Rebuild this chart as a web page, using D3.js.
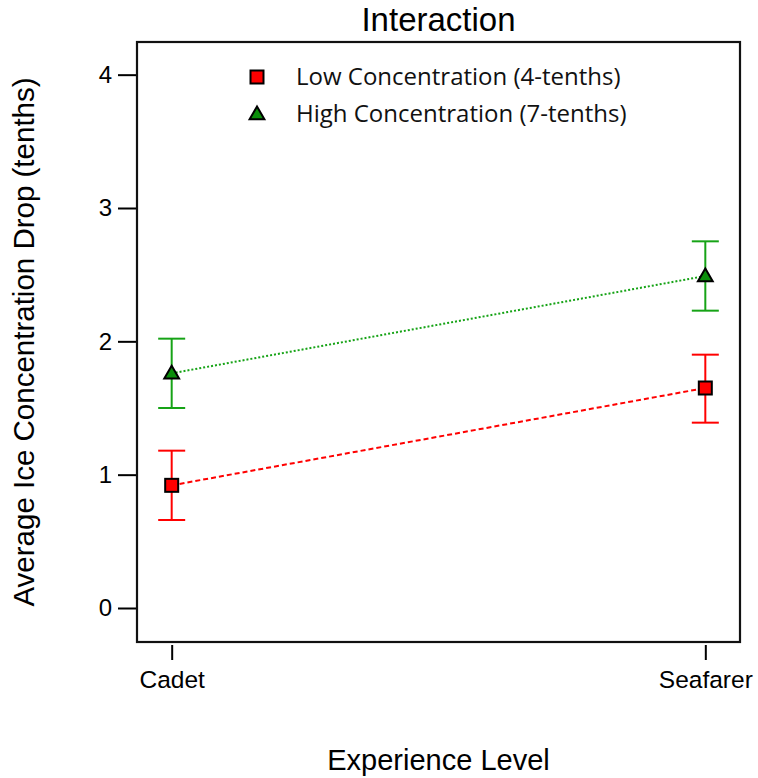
<!DOCTYPE html>
<html>
<head>
<meta charset="utf-8">
<script src="https://cdn.jsdelivr.net/npm/d3@7"></script>
<style>
  html, body { margin: 0; padding: 0; background: #fff; }
  svg { display: block; }
</style>
</head>
<body>
<svg id="chart" width="758" height="778"></svg>
<script>
// Experience levels on the x axis
const levels = ["Cadet", "Seafarer"];

// Mean ice-concentration drop (tenths) and standard-error bounds per series
const lowMean  = [0.92, 1.65];
const lowLower = [0.66, 1.39];
const lowUpper = [1.18, 1.90];

const highMean  = [1.76, 2.49];
const highLower = [1.50, 2.23];
const highUpper = [2.02, 2.75];

const seriesNames = ["Low Concentration (4-tenths)", "High Concentration (7-tenths)"];
const yTicks = [0, 1, 2, 3, 4];

const series = [
  { name: seriesNames[0], mean: lowMean,  lo: lowLower,  hi: lowUpper,
    color: "#ff0000", fill: "#ff0000", dash: "5,3", shape: "square" },
  { name: seriesNames[1], mean: highMean, lo: highLower, hi: highUpper,
    color: "#16a316", fill: "#0b8f0b", dash: "2,2", shape: "triangle" }
];

const svg = d3.select("#chart");
const plot = { left: 137, right: 740, top: 42, bottom: 642 };

const x = d3.scalePoint().domain(levels)
  .range([plot.left, plot.right]).padding(0.065);
const y = d3.scaleLinear().domain([-0.255, 4.245])
  .range([plot.bottom, plot.top]);

const axisFont = "'Liberation Sans', Arial, sans-serif";

// Title
svg.append("text")
  .attr("x", (plot.left + plot.right) / 2).attr("y", 31)
  .attr("text-anchor", "middle")
  .style("font-family", axisFont).style("font-size", "33px")
  .text("Interaction");

// Left axis
const yAxis = svg.append("g")
  .attr("transform", `translate(${plot.left},0)`)
  .call(d3.axisLeft(y).tickValues(yTicks).tickSize(19).tickPadding(6).tickFormat(d3.format("d")));
yAxis.select(".domain").remove();
yAxis.selectAll(".tick line").attr("stroke", "#000").attr("stroke-width", 2);
yAxis.selectAll(".tick text")
  .style("font-family", axisFont).style("font-size", "24px").attr("fill", "#000");

// Bottom axis (slightly offset below the frame)
const xAxis = svg.append("g")
  .attr("transform", `translate(0,${plot.bottom + 3})`)
  .call(d3.axisBottom(x).tickSize(15).tickPadding(11));
xAxis.select(".domain").remove();
xAxis.selectAll(".tick line").attr("stroke", "#000").attr("stroke-width", 2);
xAxis.selectAll(".tick text")
  .style("font-family", axisFont).style("font-size", "24.5px").attr("fill", "#000");

// Frame
svg.append("rect")
  .attr("x", plot.left).attr("y", plot.top)
  .attr("width", plot.right - plot.left).attr("height", plot.bottom - plot.top)
  .attr("fill", "none").attr("stroke", "#111").attr("stroke-width", 2.2);

// Axis titles
svg.append("text")
  .attr("transform", `translate(34,${(plot.top + plot.bottom) / 2}) rotate(-90)`)
  .attr("text-anchor", "middle")
  .style("font-family", axisFont).style("font-size", "29.5px")
  .text("Average Ice Concentration Drop (tenths)");

svg.append("text")
  .attr("x", (plot.left + plot.right) / 2).attr("y", 770)
  .attr("text-anchor", "middle")
  .style("font-family", axisFont).style("font-size", "29px")
  .text("Experience Level");

const capHalf = 13.5;
const sqSize = 13;
const triPath = d3.symbol().type(d3.symbolTriangle).size(95);

series.forEach(s => {
  const g = svg.append("g");
  // Error bars
  levels.forEach((lv, i) => {
    const cx = x(lv);
    g.append("line")
      .attr("x1", cx).attr("x2", cx).attr("y1", y(s.lo[i])).attr("y2", y(s.hi[i]))
      .attr("stroke", s.color).attr("stroke-width", 2);
    [s.lo[i], s.hi[i]].forEach(v => {
      g.append("line")
        .attr("x1", cx - capHalf).attr("x2", cx + capHalf)
        .attr("y1", y(v)).attr("y2", y(v))
        .attr("stroke", s.color).attr("stroke-width", 2);
    });
  });
  // Connecting line
  g.append("path")
    .datum(levels.map((lv, i) => [x(lv), y(s.mean[i])]))
    .attr("d", d3.line())
    .attr("fill", "none").attr("stroke", s.color)
    .attr("stroke-width", 2).attr("stroke-dasharray", s.dash);
});

function drawMarker(g, shape, cx, cy, fill) {
  if (shape === "square") {
    g.append("rect")
      .attr("x", cx - sqSize / 2).attr("y", cy - sqSize / 2)
      .attr("width", sqSize).attr("height", sqSize)
      .attr("fill", fill).attr("stroke", "#000").attr("stroke-width", 2);
  } else {
    g.append("path")
      .attr("d", triPath)
      .attr("transform", `translate(${cx},${cy + 1})`)
      .attr("fill", fill).attr("stroke", "#000").attr("stroke-width", 2);
  }
}

// Markers on top
series.forEach(s => {
  const g = svg.append("g");
  levels.forEach((lv, i) => drawMarker(g, s.shape, x(lv), y(s.mean[i]), s.fill));
});

// Legend
const legend = svg.append("g");
series.forEach((s, i) => {
  const ly = 77 + i * 37;
  drawMarker(legend, s.shape, 257, ly, s.fill);
  legend.append("text")
    .attr("x", 296).attr("y", ly + 8)
    .style("font-family", "'Open Sans', 'Noto Sans', sans-serif").style("font-size", "24px")
    .attr("fill", "#111")
    .text(s.name);
});
</script>
</body>
</html>
